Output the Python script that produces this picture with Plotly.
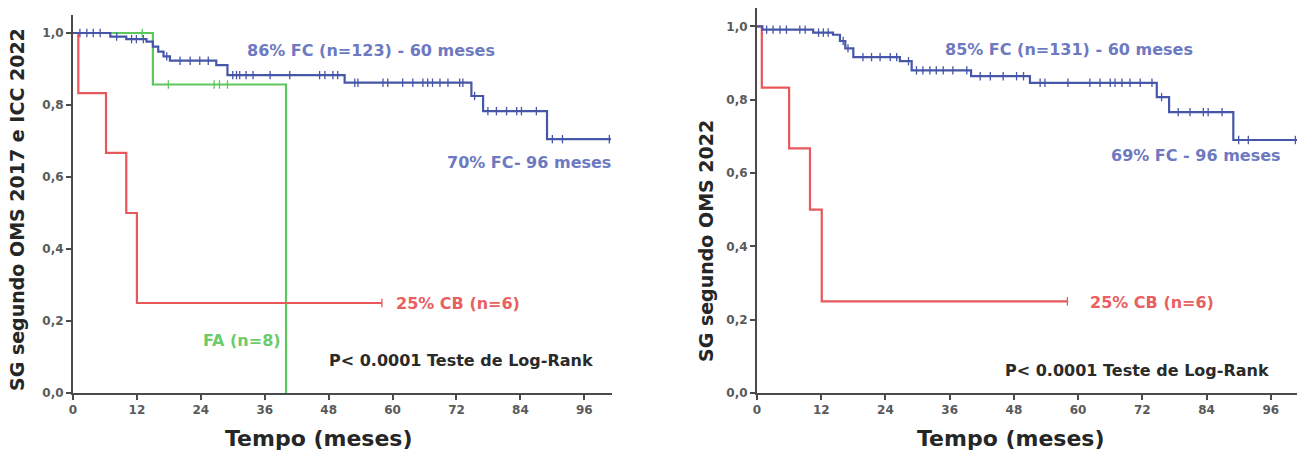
import plotly.graph_objects as go

W, H = 1311, 457

# ---------------- Data ----------------
x_ticks = [0, 12, 24, 36, 48, 60, 72, 84, 96]
x_ticklabels = ["0", "12", "24", "36", "48", "60", "72", "84", "96"]
y_ticks = [0.0, 0.2, 0.4, 0.6, 0.8, 1.0]
y_ticklabels = ["0,0", "0,2", "0,4", "0,6", "0,8", "1,0"]

# Left panel (OMS 2017 e ICC 2022)
L_fc_t = [0, 7, 10, 13.8, 15, 16, 17, 18.2, 26.9, 29, 51, 74.8, 77, 89, 101]
L_fc_s = [1.0, 0.99, 0.983, 0.976, 0.962, 0.948, 0.935, 0.923, 0.911, 0.883, 0.862, 0.825, 0.783, 0.705, 0.705]
L_fc_cens = [1.3, 2.6, 3.8, 5.1, 8.2, 11, 11.9, 13.2, 17.6, 20.1, 22, 23.8, 25.4, 30, 30.7, 31.3,
             32.5, 33.8, 37, 40.7, 46.3, 47.3, 48.8, 49.7, 52.9, 53.5, 58.2, 59.1, 61.9, 63.8,
             65.7, 66.6, 67.5, 68.9, 70.4, 72.6, 73.2, 75.4, 77.9, 79.5, 81.4, 83.3, 84.2, 87,
             90, 91.9, 100.7]

L_fa_t = [0, 15, 40, 40]
L_fa_s = [1.0, 0.857, 0.0, 0.0]
L_fa_cens = [13, 17.9, 26.5, 27.5, 29]

L_cb_t = [0, 1, 6.2, 10, 12, 58]
L_cb_s = [1.0, 0.833, 0.667, 0.5, 0.25, 0.25]
L_cb_cens = [58]

# Right panel (OMS 2022)
R_fc_t = [0, 1, 6.2, 10.5, 14.2, 15.5, 16.5, 18, 26.7, 28.9, 40, 51, 74.7, 77, 89, 100.9]
R_fc_s = [1.0, 0.991, 0.991, 0.983, 0.977, 0.96, 0.94, 0.916, 0.905, 0.88, 0.864, 0.846, 0.807, 0.766, 0.69, 0.69]
R_fc_cens = [1.8, 3, 4.3, 5.5, 8, 9, 11.5, 12.4, 13.3, 16.1, 17, 19.8, 21.4, 23, 24.9, 26.1, 28.3,
             29.8, 31, 32.3, 33.5, 34.8, 36.6, 39.2, 41.7, 43.6, 46, 48.5, 49.8, 52.9, 53.8, 58.1,
             62.2, 64.1, 66, 66.9, 68.2, 69.7, 71.6, 73.8, 75.6, 78.7, 80.9, 83.4, 84.3, 86.9, 90,
             91.8, 100.6]

R_cb_t = [0, 0.9, 6, 9.9, 12.1, 58]
R_cb_s = [1.0, 0.833, 0.667, 0.5, 0.25, 0.25]
R_cb_cens = [58]

# ---------------- Styles ----------------
BLUE = "#4656a8"
BLUE_TXT = "#6d79c0"
RED = "#e8585b"
RED_TXT = "#e8605f"
GREEN = "#5cc75c"
GREEN_TXT = "#6ccb6c"
AX = "#4a4a4a"
FONT = "DejaVu Sans"


def step_value(ts, ss, t):
    v = ss[0]
    for ti, si in zip(ts, ss):
        if ti <= t:
            v = si
        else:
            break
    return v


fig = go.Figure()


def add_km(ts, ss, cens, color, xa, ya):
    fig.add_trace(go.Scatter(x=ts, y=ss, mode="lines", line=dict(color=color, width=2.2, shape="hv"),
                             xaxis=xa, yaxis=ya, showlegend=False, hoverinfo="skip"))
    cy = [step_value(ts, ss, c) for c in cens]
    fig.add_trace(go.Scatter(x=cens, y=cy, mode="markers",
                             marker=dict(symbol="line-ns-open", size=6, color=color,
                                         line=dict(color=color, width=1.3)),
                             xaxis=xa, yaxis=ya, showlegend=False, hoverinfo="skip"))


add_km(L_fa_t, L_fa_s, L_fa_cens, GREEN, "x", "y")
add_km(L_cb_t, L_cb_s, L_cb_cens, RED, "x", "y")
add_km(L_fc_t, L_fc_s, L_fc_cens, BLUE, "x", "y")

add_km(R_cb_t, R_cb_s, R_cb_cens, RED, "x2", "y2")
add_km(R_fc_t, R_fc_s, R_fc_cens, BLUE, "x2", "y2")


def px(x):
    return x / W


def py(y):
    return 1 - y / H


axis_common = dict(showline=True, linewidth=2, linecolor=AX, ticks="outside", ticklen=5,
                   tickwidth=1.5, tickcolor=AX, showgrid=False, zeroline=False,
                   tickfont=dict(family=FONT, size=12, color="#5a5a5a", weight="bold"))

fig.update_layout(
    width=W, height=H,
    margin=dict(l=0, r=0, t=0, b=0, autoexpand=False),
    paper_bgcolor="white", plot_bgcolor="white",
    xaxis=dict(domain=[px(73), px(612)], range=[0, 101.2], tickvals=x_ticks,
               ticktext=x_ticklabels, anchor="y", **axis_common),
    yaxis=dict(domain=[py(393), py(15)], range=[0, 1.05], tickvals=y_ticks,
               ticktext=y_ticklabels, anchor="x", **axis_common),
    xaxis2=dict(domain=[px(757), px(1297)], range=[0, 100.9], tickvals=x_ticks,
                ticktext=x_ticklabels, anchor="y2", **axis_common),
    yaxis2=dict(domain=[py(393), py(8)], range=[0, 1.05], tickvals=y_ticks,
                ticktext=y_ticklabels, anchor="x2", **axis_common),
)


def ann(text, x, y, color, size=16, angle=0, xanchor="center"):
    fig.add_annotation(text=text, x=px(x), y=py(y), xref="paper", yref="paper",
                       showarrow=False, textangle=angle, xanchor=xanchor, yanchor="middle",
                       font=dict(family=FONT, size=size, color=color))


# Left panel annotations
ann("<b>86% FC (n=123) - 60 meses</b>", 371.5, 50, BLUE_TXT)
ann("<b>70% FC- 96 meses</b>", 529, 163, BLUE_TXT)
ann("<b>25% CB (n=6)</b>", 457.5, 303, RED_TXT)
ann("<b>FA (n=8)</b>", 241.5, 340, GREEN_TXT)
ann("<b>P&lt; 0.0001 Teste de Log-Rank</b>", 461.5, 360, "#2a2a2a")
ann("<b>Tempo (meses)</b>", 319, 438, "#262626", size=22)
ann("<b>SG segundo OMS 2017 e ICC 2022</b>", 17, 210, "#262626", size=19, angle=-90)

# Right panel annotations
ann("<b>85% FC (n=131) - 60 meses</b>", 1069, 49, BLUE_TXT)
ann("<b>69% FC - 96 meses</b>", 1196, 156, BLUE_TXT)
ann("<b>25% CB (n=6)</b>", 1151.5, 302, RED_TXT)
ann("<b>P&lt; 0.0001 Teste de Log-Rank</b>", 1137, 370, "#2a2a2a")
ann("<b>Tempo (meses)</b>", 1011, 438, "#262626", size=22)
ann("<b>SG segundo OMS 2022</b>", 706, 241, "#262626", size=19, angle=-90)

post = ("document.documentElement.style.margin='0';document.body.style.margin='0';"
        "document.body.style.overflow='hidden';document.documentElement.style.overflow='hidden';")

fig.write_html("out.html", config={"displayModeBar": False}, post_script=post)
